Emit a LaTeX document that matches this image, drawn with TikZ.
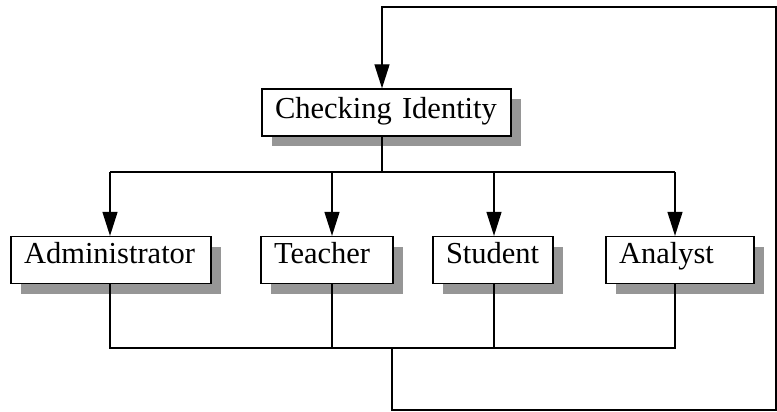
\documentclass[tikz,border=0pt]{standalone}
\usepackage{fontspec}
\setmainfont{Liberation Serif}
\usetikzlibrary{arrows.meta,shadows}
\begin{document}
\begin{tikzpicture}[x=1pt,y=-1pt,
  box/.style={draw=black, line width=1.3pt, fill=white,
    inner xsep=13pt, inner ysep=0pt, minimum height=47pt, align=left,
    font=\fontsize{30.5}{36}\selectfont, text height=20pt, text depth=14pt,
    drop shadow={shadow xshift=10pt, shadow yshift=-10pt, fill=black!41, opacity=1}},
  wire/.style={line width=1.3pt},
  arr/.style={wire, -{Triangle[length=24pt,width=15pt]}}]
\useasboundingbox (0,0) rectangle (777,412);

% boxes
\node[box, text width=223pt, text depth=9pt] (ci) at (386.5,112.5) {Checking Identity};
\node[box, text width=174pt] (adm) at (111,260) {Administrator};
\node[box, text width=106pt] (tea) at (327,260) {Teacher};
\node[box, text width=94pt]  (stu) at (493,260) {Student};
\node[box, text width=122pt] (ana) at (680,260) {Analyst};

% distribution bus below the identity check
\coordinate (split) at (382,172);
\coordinate (dA) at (110,172);
\coordinate (dT) at (332,172);
\coordinate (dS) at (494,172);
\coordinate (dN) at (675,172);
\draw[wire] (split |- ci.south) -- (split);
\draw[wire] (dA) -- (dN);
\draw[arr] (dA) -- (dA |- adm.north);
\draw[arr] (dT) -- (dT |- tea.north);
\draw[arr] (dS) -- (dS |- stu.north);
\draw[arr] (dN) -- (dN |- ana.north);

% collecting bus below the roles
\coordinate (cA) at (110,348);
\coordinate (cT) at (332,348);
\coordinate (cS) at (494,348);
\coordinate (cN) at (675,348);
\draw[wire] (cA |- adm.south) -- (cA) -- (cN) -- (cN |- ana.south);
\draw[wire] (cT |- tea.south) -- (cT);
\draw[wire] (cS |- stu.south) -- (cS);

% feedback loop back to the identity check
\coordinate (join) at (392,348);
\coordinate (loopA) at (392,410);
\coordinate (loopB) at (776,410);
\coordinate (loopC) at (776,7);
\coordinate (loopD) at (382,7);
\draw[arr] (join) -- (loopA) -- (loopB) -- (loopC) -- (loopD) -- (loopD |- ci.north);
\end{tikzpicture}
\end{document}
